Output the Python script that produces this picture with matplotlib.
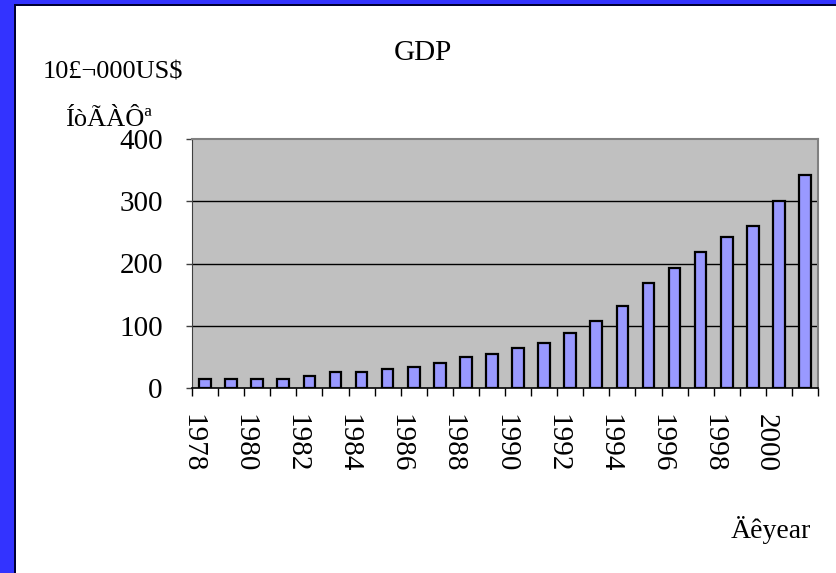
import matplotlib
matplotlib.use('Agg')
import numpy as np
import matplotlib.pyplot as plt
from matplotlib.patches import Rectangle
from matplotlib.transforms import ScaledTranslation

# Data (unit: 10,000 US$)
years = list(range(1978, 2002))
gdp = [15, 15, 15, 15, 20, 25, 25, 30, 34, 40, 49, 54,
       64, 73, 88, 107, 131, 169, 193, 218, 242, 261, 300, 342]
y_ticks = [0, 100, 200, 300, 400]

# Garbled (mojibake) labels exactly as they appear in the reference
title_text = "GDP"
unit_line1 = "10£¬000US$"
unit_line2 = "ÍòÃÀÔª"
xlabel_text = "Äêyear"

W, H = 836, 573
plt.rcParams['font.family'] = ['Liberation Serif', 'DejaVu Serif']

fig = plt.figure(figsize=(W / 100, H / 100), dpi=100)
fig.patch.set_facecolor('white')

# blue frame on left and top edges
fig.patches.append(Rectangle((0, 0), 14 / W, 1, transform=fig.transFigure,
                             facecolor='#3333FF', edgecolor='none', zorder=0))
fig.patches.append(Rectangle((0, 1 - 4 / H), 1, 4 / H, transform=fig.transFigure,
                             facecolor='#3333FF', edgecolor='none', zorder=0))
fig.patches.append(Rectangle((14 / W, 0), 2 / W, 1 - 4 / H, transform=fig.transFigure,
                             facecolor='#000033', edgecolor='none', zorder=0))
fig.patches.append(Rectangle((14 / W, 1 - 6 / H), 1 - 14 / W, 2 / H, transform=fig.transFigure,
                             facecolor='#000033', edgecolor='none', zorder=0))

ax = fig.add_axes([192 / W, (H - 388) / H, 626 / W, (388 - 139) / H])
ax.set_facecolor('#C0C0C0')

x = np.arange(len(years))
ax.bar(x, gdp, width=0.45, color='#9999FF', edgecolor='black', linewidth=1.6, zorder=3)

ax.set_xlim(-0.5, len(years) - 0.5)
ax.set_ylim(0, 400)
ax.set_yticks(y_ticks)
ax.set_yticklabels([str(v) for v in y_ticks], fontsize=21)
for v in y_ticks[1:-1]:
    ax.axhline(v, color='black', linewidth=1.0, zorder=1)

# ticks at category boundaries, every other one labelled
bounds = np.arange(len(years) + 1) - 0.5
labels = [str(years[i]) if (i < len(years) and i % 2 == 0) else '' for i in range(len(bounds))]
ax.set_xticks(bounds)
ax.set_xticklabels(labels, rotation=270, fontsize=21, va='top', ha='center')
shift = ScaledTranslation(-8 / 100, 0, fig.dpi_scale_trans)
for lab in ax.get_xticklabels():
    lab.set_transform(lab.get_transform() + shift)

ax.tick_params(axis='x', direction='out', length=6, width=1, color='black', pad=13)
ax.tick_params(axis='y', direction='out', length=4, width=1, color='#404040', pad=17)

for side in ['top', 'right']:
    ax.spines[side].set_color('#808080')
    ax.spines[side].set_linewidth(1.5)
ax.spines['left'].set_color('#404040')
ax.spines['bottom'].set_color('black')
ax.spines['bottom'].set_linewidth(1.2)

# texts (figure pixel positions, baseline aligned)
fig.text(423 / W, 1 - 60 / H, title_text, fontsize=21, ha='center', va='baseline')
fig.text(43 / W, 1 - 78 / H, unit_line1, fontsize=19, ha='left', va='baseline')
fig.text(66 / W, 1 - 126 / H, unit_line2, fontsize=19, ha='left', va='baseline')
fig.text(731 / W, 1 - 538 / H, xlabel_text, fontsize=20, ha='left', va='baseline')

plt.savefig('out.png', dpi=100)
